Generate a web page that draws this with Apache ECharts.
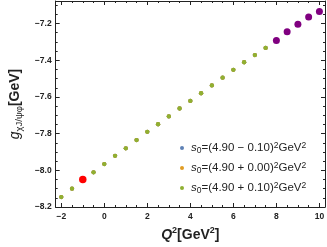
<!DOCTYPE html>
<html>
<head>
<meta charset="utf-8">
<script src="https://cdn.jsdelivr.net/npm/echarts@6/dist/echarts.min.js"></script>
<style>html,body{margin:0;padding:0;background:#fff}#c{width:327px;height:247px}</style>
</head>
<body>
<div id="c"></div>
<script>
// ---- data ----
const q2Main = [-2, -1.5, -0.5, 0, 0.5, 1, 1.5, 2, 2.5, 3, 3.5, 4, 4.5, 5, 5.5, 6, 6.5, 7, 7.5];
const gLow   = [-8.146, -8.100, -8.011, -7.966, -7.921, -7.880, -7.835, -7.790, -7.749, -7.706, -7.663, -7.622, -7.580, -7.537, -7.495, -7.452, -7.411, -7.372, -7.333];
const gMid   = [-8.146, -8.100, -8.011, -7.966, -7.921, -7.880, -7.835, -7.790, -7.749, -7.706, -7.663, -7.622, -7.580, -7.537, -7.495, -7.452, -7.411, -7.372, -7.333];
const gHigh  = [-8.146, -8.100, -8.011, -7.966, -7.921, -7.880, -7.835, -7.790, -7.749, -7.706, -7.663, -7.622, -7.580, -7.537, -7.495, -7.452, -7.411, -7.372, -7.333];
const q2Red = [-1];
const gRed  = [-8.050];
const q2Purple = [8, 8.5, 9, 9.5, 10];
const gPurple  = [-7.293, -7.245, -7.204, -7.164, -7.134];
const seriesNames = ['s0 low', 's0 mid', 's0 high'];
const legendTexts = ['4.90 − 0.10', '4.90 + 0.00', '4.90 + 0.10'];
const xMajorTicks = [-2, 0, 2, 4, 6, 8, 10];
const xMinorTicks = [-2, -1.5, -1, -0.5, 0, 0.5, 1, 1.5, 2, 2.5, 3, 3.5, 4, 4.5, 5, 5.5, 6, 6.5, 7, 7.5, 8, 8.5, 9, 9.5, 10];
const yMajorTicks = [-8.2, -8.0, -7.8, -7.6, -7.4, -7.2];
const yMinorTicks = [-8.2, -8.15, -8.1, -8.05, -8.0, -7.95, -7.9, -7.85, -7.8, -7.75, -7.7, -7.65, -7.6, -7.55, -7.5, -7.45, -7.4, -7.35, -7.3, -7.25, -7.2, -7.15, -7.1];
const X_MIN = -2.26, X_MAX = 10.26, Y_MIN = -8.2, Y_MAX = -7.077;

const lineColor = '#222';
const textColor = '#222';
const fam = '"Liberation Sans", Arial, sans-serif';

function zip(xs, ys) { return xs.map((x, i) => [x, ys[i]]); }
function fmt(v) { const s = (Math.abs(v) < 1e-9 ? 0 : v).toString(); return s.replace('-', '\u2212'); }
function fmtY(v) { return v.toFixed(1).replace('-', '\u2212'); }

function axisPair(kind, pos, major, minor, withLabels, extra) {
  const base = {
    type: 'value', position: pos,
    min: kind === 'x' ? X_MIN : Y_MIN, max: kind === 'x' ? X_MAX : Y_MAX,
    splitLine: { show: false }
  };
  const a = Object.assign({}, base, {
    axisLine: { show: true, onZero: false, lineStyle: { color: lineColor, width: 1 } },
    axisTick: { show: true, inside: true, length: 4, customValues: major, lineStyle: { color: lineColor, width: 1 } },
    axisLabel: withLabels ? {
      show: true, customValues: major, margin: kind === 'x' ? 5 : 4,
      formatter: kind === 'x' ? fmt : fmtY,
      color: textColor, fontWeight: 'bold', fontSize: 8.5, fontFamily: fam
    } : { show: false }
  }, extra || {});
  const b = Object.assign({}, base, {
    axisLine: { show: false, onZero: false },
    axisTick: { show: true, inside: true, length: 2, customValues: minor, lineStyle: { color: lineColor, width: 1 } },
    axisLabel: { show: false }
  });
  return [a, b];
}

const xAxes = [].concat(
  axisPair('x', 'bottom', xMajorTicks, xMinorTicks, true, {
    name: '{q|Q}{sup|2}{b|[GeV}{sup|2}{b|]}',
    nameLocation: 'middle', nameGap: 19,
    nameTextStyle: {
      color: textColor, fontFamily: fam,
      rich: {
        q: { fontSize: 14, fontWeight: 'bold', fontStyle: 'italic', lineHeight: 18, fontFamily: fam, color: textColor },
        b: { fontSize: 14, fontWeight: 'bold', lineHeight: 18, fontFamily: fam, color: textColor },
        sup: { fontSize: 9, fontWeight: 'bold', lineHeight: 11, verticalAlign: 'top', fontFamily: fam, color: textColor }
      }
    }
  }),
  axisPair('x', 'top', xMajorTicks, xMinorTicks, false)
);
const yAxes = [].concat(
  axisPair('y', 'left', yMajorTicks, yMinorTicks, true, {
    name: '{g|g}{sub|\u03c7J/\u03c8\u03c6}{b|[GeV]}',
    nameLocation: 'middle', nameGap: 27, nameRotate: 90,
    nameTextStyle: {
      color: textColor, fontFamily: fam,
      rich: {
        g: { fontSize: 14, fontStyle: 'italic', lineHeight: 18, fontFamily: fam, color: textColor },
        b: { fontSize: 14, fontWeight: 'bold', lineHeight: 18, fontFamily: fam, color: textColor },
        sub: { fontSize: 9.5, lineHeight: 10, verticalAlign: 'bottom', fontFamily: fam, color: textColor }
      }
    }
  }),
  axisPair('y', 'right', yMajorTicks, yMinorTicks, false)
);

const colors = ['#5e81b5', '#e19c24', '#8fb032'];
const mainData = [gLow, gMid, gHigh];
const series = seriesNames.map((n, i) => ({
  name: n, type: 'scatter', xAxisIndex: 0, yAxisIndex: 0,
  data: zip(q2Main, mainData[i]), symbol: 'circle', symbolSize: 4.3,
  itemStyle: { color: colors[i], opacity: 1 }, z: 2 + i
}));
series.push({
  name: 'point', type: 'scatter', xAxisIndex: 0, yAxisIndex: 0,
  data: zip(q2Red, gRed), symbol: 'circle', symbolSize: 7.5,
  itemStyle: { color: '#ff0000', opacity: 1 }, z: 6
});
series.push({
  name: 'extrap', type: 'scatter', xAxisIndex: 0, yAxisIndex: 0,
  data: zip(q2Purple, gPurple), symbol: 'circle', symbolSize: 7,
  itemStyle: { color: '#800080', opacity: 1 }, z: 6
});

const chart = echarts.init(document.getElementById('c'), null, { renderer: 'canvas' });
chart.setOption({
  animation: false,
  backgroundColor: '#fff',
  grid: { left: 44, right: 2, top: 1, bottom: 37, containLabel: false },
  xAxis: xAxes,
  yAxis: yAxes,
  legend: {
    data: seriesNames, orient: 'vertical', left: 180, top: 141, padding: 0,
    itemWidth: 4, itemHeight: 4, itemGap: 6, icon: 'circle',
    formatter: function (name) {
      const t = legendTexts[seriesNames.indexOf(name)];
      return '{s|s}{sub|0}{n|=(' + t + ')}{sup|2}{n|GeV}{sup|2}';
    },
    textStyle: {
      color: textColor, fontFamily: fam,
      rich: {
        s: { fontSize: 11.5, fontStyle: 'italic', lineHeight: 14, padding: [0, 0, 0, 2], fontFamily: fam, color: textColor },
        n: { fontSize: 11.5, lineHeight: 14, fontFamily: fam, color: textColor },
        sub: { fontSize: 8.5, lineHeight: 9, verticalAlign: 'bottom', fontFamily: fam, color: textColor },
        sup: { fontSize: 8.5, lineHeight: 9, verticalAlign: 'top', fontFamily: fam, color: textColor }
      }
    }
  },
  series: series
});
</script>
</body>
</html>
